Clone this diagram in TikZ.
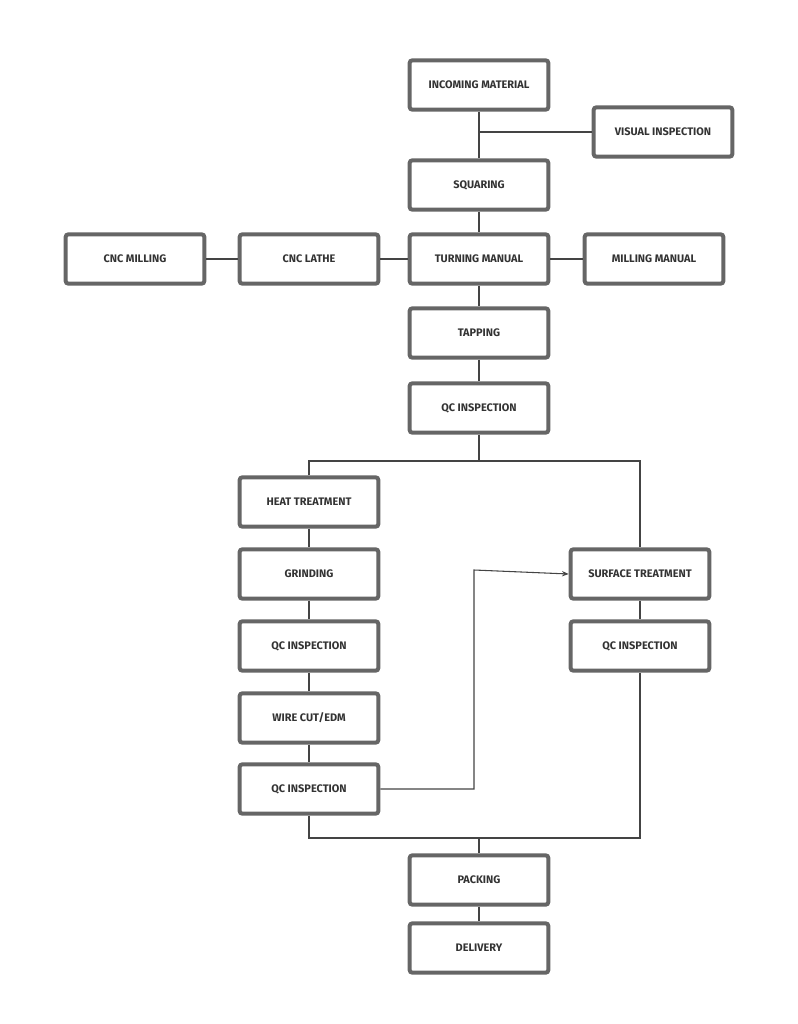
\documentclass[tikz,border=0pt]{standalone}
\usepackage{fontspec}
\setmainfont{Fira Sans}
\usepackage{xcolor}
\usetikzlibrary{arrows.meta, positioning, calc}
\definecolor{boxGray}{HTML}{666666}
\definecolor{textDark}{HTML}{333333}
\definecolor{lineDark}{HTML}{444444}

\begin{document}
\begin{tikzpicture}[
        x=0.75pt, y=-0.75pt,
        font=\fontsize{8.2}{10}\selectfont\bfseries,
        block/.style={rectangle, rounded corners=2pt, draw=boxGray, line width=3pt, fill=white, text=textDark, minimum height=37pt, minimum width=104pt, align=center, inner sep=0pt},
        link/.style={draw=lineDark, line width=0.8pt},
        arrow/.style={link, -{Stealth[length=5pt,width=4pt]}}
    ]
        \useasboundingbox (0,0) rectangle (798,1024);
        % --- Top chain ---
        \node[block] (inc) at (479, 85) {INCOMING MATERIAL};
        \node[block] (vis) at (663, 132) {VISUAL INSPECTION};
        \node[block] (sq) at (479, 185) {SQUARING};
        \node[block] (turn) at (479, 259) {TURNING MANUAL};
        \node[block] (lathe) at (309, 259) {CNC LATHE};
        \node[block] (cncm) at (135, 259) {CNC MILLING};
        \node[block] (mill) at (654, 259) {MILLING MANUAL};
        \node[block] (tap) at (479, 333) {TAPPING};
        \node[block] (qc1) at (479, 408) {QC INSPECTION};
        \coordinate (jv) at (479, 132);
        \draw[link] (inc) -- (sq);
        \draw[link] (jv) -- (vis);
        \draw[link] (sq) -- (turn);
        \draw[link] (cncm) -- (lathe);
        \draw[link] (lathe) -- (turn);
        \draw[link] (turn) -- (mill);
        \draw[link] (turn) -- (tap);
        \draw[link] (tap) -- (qc1);

        % --- Left branch ---
        \node[block] (heat) at (309, 502) {HEAT TREATMENT};
        \node[block] (grind) at (309, 574) {GRINDING};
        \node[block] (qc2) at (309, 646) {QC INSPECTION};
        \node[block] (wire) at (309, 718) {WIRE CUT/EDM};
        \node[block] (qc3) at (309, 789) {QC INSPECTION};
        \draw[link] (heat) -- (grind);
        \draw[link] (grind) -- (qc2);
        \draw[link] (qc2) -- (wire);
        \draw[link] (wire) -- (qc3);

        % --- Right branch ---
        \node[block] (surf) at (640, 574) {SURFACE TREATMENT};
        \node[block] (qc4) at (640, 646) {QC INSPECTION};
        \draw[link] (surf) -- (qc4);

        % --- Split and merge ---
        \coordinate (split) at (479, 461);
        \coordinate (merge) at (479, 838);
        \draw[link] (qc1) -- (split);
        \draw[link] (heat.north) |- (split) -| (surf.north);
        \draw[arrow] (qc3.east) -| (474, 570) -- (surf.west);
        \draw[link] (qc3.south) |- (merge) -| (qc4.south);

        % --- End ---
        \node[block] (pack) at (479, 880) {PACKING};
        \node[block] (del) at (479, 948) {DELIVERY};
        \draw[link] (merge) -- (pack);
        \draw[link] (pack) -- (del);
    \end{tikzpicture}
\end{document}
